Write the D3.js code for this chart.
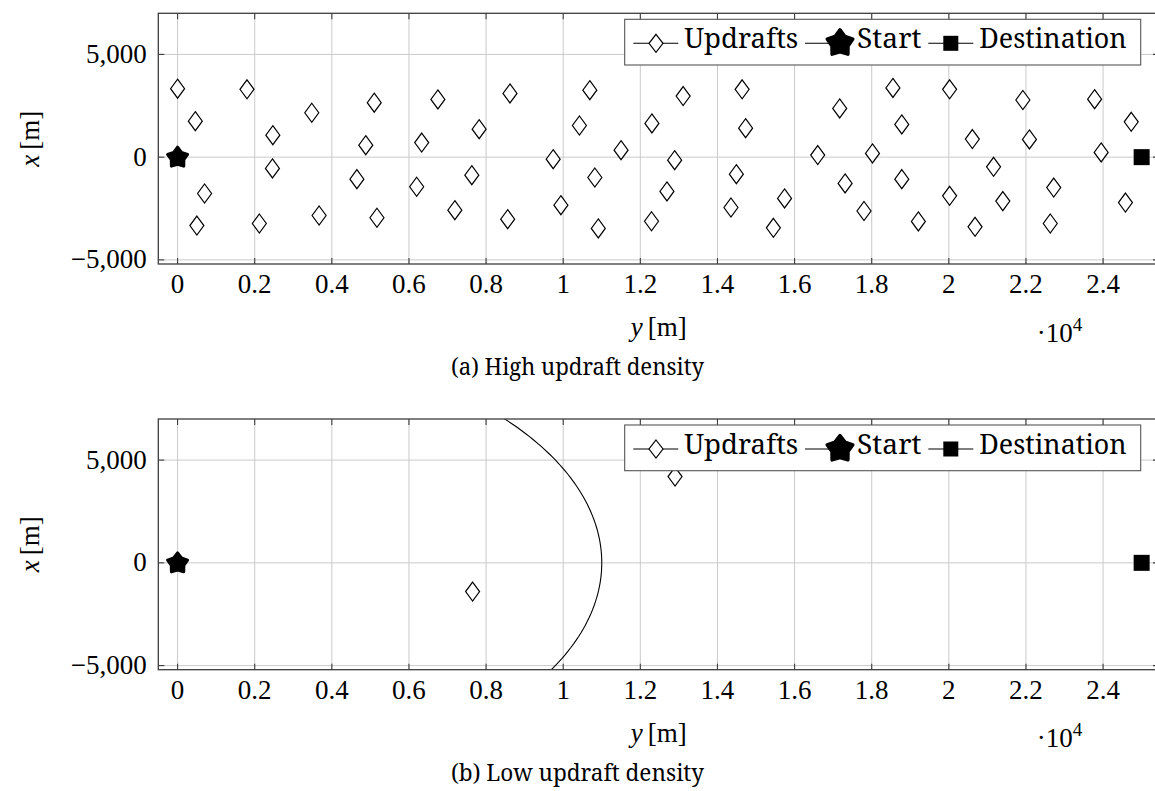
<!DOCTYPE html>
<html>
<head>
<meta charset="utf-8">
<script src="https://cdn.jsdelivr.net/npm/d3@7"></script>
<style>
  html, body { margin: 0; padding: 0; background: #fff; }
  svg { display: block; }
</style>
</head>
<body>
<svg id="fig" width="1155" height="791"></svg>
<script>
// ---- data -------------------------------------------------------------
// horizontal axis: y [m] (shown in units of 10^4), vertical axis: x [m]
const yTickValues = [0, 2000, 4000, 6000, 8000, 10000, 12000, 14000, 16000, 18000, 20000, 22000, 24000];
const yTickLabels = ["0", "0.2", "0.4", "0.6", "0.8", "1", "1.2", "1.4", "1.6", "1.8", "2", "2.2", "2.4"];
const xTickValues = [-5000, 0, 5000];
const xTickLabels = ["\u22125,000", "0", "5,000"];

const startPoint = [0, 0];          // [y, x]
const destinationPoint = [25000, 0];

// updraft centres as [y, x] in metres
const highDensityUpdrafts = [
  [0, 3330], [460, 1750], [700, -1770], [500, -3330], [1800, 3300], [2470, 1070],
  [2460, -550], [2120, -3230], [3480, 2160], [3670, -2840], [5100, 2650], [4880, 580],
  [4650, -1070], [5170, -2950], [6750, 2810], [6330, 710], [6200, -1440], [7190, -2580],
  [7820, 1360], [7630, -880], [8620, 3100], [8560, -3020], [9740, -100], [9940, -2340],
  [10690, 3260], [10420, 1540], [10820, -990], [10910, -3470], [11500, 340], [12300, 1640],
  [12290, -3120], [13110, 2970], [12890, -150], [12690, -1670], [14640, 3300], [14730, 1410],
  [14490, -830], [14350, -2450], [15450, -3440], [15740, -2010], [16600, 100], [17170, 2370],
  [17310, -1280], [17800, -2620], [18020, 180], [18550, 3370], [18780, 1590], [18780, -1070],
  [19210, -3130], [20020, 3300], [20020, -1880], [20610, 880], [20680, -3390], [21160, -470],
  [21400, -2140], [21920, 2780], [22090, 860], [22720, -1480], [22630, -3230], [23780, 2820],
  [23950, 230], [24580, -2210], [24730, 1720]
];
const lowDensityUpdrafts = [[7650, -1400], [12900, 4200]];

// reachable range around the start point (low-density case)
const reachRadius = 11000;

const legendLabels = ["Updrafts", "Start", "Destination"];
const captions = ["(a) High updraft density", "(b) Low updraft density"];

// ---- fonts & layout -------------------------------------------------------
const MATH_FONT = '"Liberation Serif", "Times New Roman", serif';
const TEXT_FONT = '"Noto Serif", "Liberation Serif", serif';
const W = 1155;
const plotLeft = 158.3, plotRight = 1159, plotH = 250.7;
const yDomain = [-500, 25450];
const xDomain = [-5200, 7000];
const FRAME = "#3d3d3d", GRID = "#cacaca";

const svg = d3.select("#fig").attr("font-family", MATH_FONT);

function starPath(cx, cy, R, r) {
  const pts = [];
  for (let i = 0; i < 10; i++) {
    const a = -Math.PI / 2 + i * Math.PI / 5;
    const rad = i % 2 === 0 ? R : r;
    pts.push([cx + rad * Math.cos(a), cy + rad * Math.sin(a)]);
  }
  return "M" + pts.map(p => p.join(",")).join("L") + "Z";
}
function diamondPath(cx, cy, hw, hh) {
  return `M${cx},${cy - hh}L${cx + hw},${cy}L${cx},${cy + hh}L${cx - hw},${cy}Z`;
}

function drawPanel(top, updrafts, withRange, caption, idx) {
  const g = svg.append("g");
  const bottom = top + plotH;
  const sx = d3.scaleLinear().domain(yDomain).range([plotLeft, plotRight]);
  const sy = d3.scaleLinear().domain(xDomain).range([bottom, top]);

  const clipId = "clip" + idx;
  svg.append("clipPath").attr("id", clipId)
    .append("rect").attr("x", plotLeft).attr("y", top)
    .attr("width", plotRight - plotLeft).attr("height", plotH);

  // grid
  const grid = g.append("g").attr("clip-path", `url(#${clipId})`);
  grid.selectAll("line.v").data(yTickValues).join("line")
    .attr("x1", d => sx(d)).attr("x2", d => sx(d))
    .attr("y1", top).attr("y2", bottom)
    .attr("stroke", GRID).attr("stroke-width", 1);
  grid.selectAll("line.h").data(xTickValues).join("line")
    .attr("class", "h")
    .attr("x1", plotLeft).attr("x2", plotRight)
    .attr("y1", d => sy(d)).attr("y2", d => sy(d))
    .attr("stroke", GRID).attr("stroke-width", 1);

  const marks = g.append("g").attr("clip-path", `url(#${clipId})`);

  if (withRange) {
    const angles = d3.range(0, 361, 1).map(a => a * Math.PI / 180);
    const line = d3.line()
      .x(a => sx(startPoint[0] + reachRadius * Math.cos(a)))
      .y(a => sy(startPoint[1] + reachRadius * Math.sin(a)));
    marks.append("path").attr("d", line(angles))
      .attr("fill", "none").attr("stroke", "#000").attr("stroke-width", 1.1);
  }

  marks.selectAll("path.up").data(updrafts).join("path")
    .attr("class", "up")
    .attr("d", d => diamondPath(sx(d[0]), sy(d[1]), 7, 9.5))
    .attr("fill", "#fff").attr("stroke", "#000").attr("stroke-width", 1.2);

  marks.append("path")
    .attr("d", starPath(sx(startPoint[0]), sy(startPoint[1]) + 0.5, 10.5, 6.6))
    .attr("fill", "#000").attr("stroke", "#000").attr("stroke-width", 3)
    .attr("stroke-linejoin", "round");

  marks.append("rect")
    .attr("x", sx(destinationPoint[0]) - 8).attr("y", sy(destinationPoint[1]) - 8)
    .attr("width", 16).attr("height", 16).attr("fill", "#000");

  // frame
  g.append("rect").attr("x", plotLeft).attr("y", top)
    .attr("width", plotRight - plotLeft).attr("height", plotH)
    .attr("fill", "none").attr("stroke", FRAME).attr("stroke-width", 1.3);

  // inward tick marks on all four sides
  const tl = 6;
  const ticks = g.append("g").attr("stroke", FRAME).attr("stroke-width", 1.1);
  yTickValues.forEach(v => {
    ticks.append("line").attr("x1", sx(v)).attr("x2", sx(v)).attr("y1", bottom).attr("y2", bottom - tl);
    ticks.append("line").attr("x1", sx(v)).attr("x2", sx(v)).attr("y1", top).attr("y2", top + tl);
  });
  xTickValues.forEach(v => {
    ticks.append("line").attr("x1", plotLeft).attr("x2", plotLeft + tl).attr("y1", sy(v)).attr("y2", sy(v));
    ticks.append("line").attr("x1", plotRight).attr("x2", plotRight - tl).attr("y1", sy(v)).attr("y2", sy(v));
  });

  // tick labels
  g.selectAll("text.yt").data(yTickValues).join("text")
    .attr("class", "yt")
    .attr("x", d => sx(d)).attr("y", bottom + 29.3)
    .attr("text-anchor", "middle").attr("font-size", 27).attr("fill", "#000")
    .text((d, i) => yTickLabels[i]);
  g.selectAll("text.xt").data(xTickValues).join("text")
    .attr("class", "xt")
    .attr("x", plotLeft - 11.6).attr("y", d => sy(d) + 8.6)
    .attr("text-anchor", "end").attr("font-size", 27).attr("fill", "#000")
    .text((d, i) => xTickLabels[i]);

  // axis labels
  const yl = g.append("text")
    .attr("x", (plotLeft + plotRight) / 2).attr("y", top + 322.7)
    .attr("text-anchor", "middle").attr("font-size", 27);
  yl.append("tspan").attr("font-style", "italic").text("y");
  yl.append("tspan").attr("dx", 5).text("[m]");

  const xl = g.append("text")
    .attr("transform", `translate(38.5,${top + plotH / 2}) rotate(-90)`)
    .attr("text-anchor", "middle").attr("font-size", 27);
  xl.append("tspan").attr("font-style", "italic").text("x");
  xl.append("tspan").attr("dx", 5).text("[m]");

  const sc = g.append("text").attr("x", 1036.7).attr("y", top + 328.4).attr("font-size", 27);
  sc.append("tspan").text("\u00b710");
  sc.append("tspan").attr("font-size", 19).attr("dy", -11).text("4");

  // caption
  g.append("text").attr("x", W / 2).attr("y", top + 361.7)
    .attr("text-anchor", "middle").attr("font-size", 23.5).attr("font-family", TEXT_FONT)
    .attr("textLength", 253).attr("lengthAdjust", "spacingAndGlyphs")
    .text(caption);

  // legend
  const lg = g.append("g");
  lg.append("rect").attr("x", 624.7).attr("y", top + 6).attr("width", 516).attr("height", 45.7)
    .attr("fill", "#fff").attr("stroke", "#555").attr("stroke-width", 1.1);
  const ly = top + 30;
  const sampleStart = [633.3, 805, 928.3];
  const markerX = [656, 840, 950.8];
  const textStart = [684.3, 857, 979.3];
  const textWidth = [114, 64.4, 147.4];
  legendLabels.forEach((lab, i) => {
    lg.append("line").attr("x1", sampleStart[i]).attr("x2", sampleStart[i] + 45)
      .attr("y1", ly).attr("y2", ly).attr("stroke", "#000").attr("stroke-width", 1.1);
    if (i === 0) {
      lg.append("path").attr("d", diamondPath(markerX[i], ly, 7, 9))
        .attr("fill", "#fff").attr("stroke", "#000").attr("stroke-width", 1.2);
    } else if (i === 1) {
      lg.append("path").attr("d", starPath(markerX[i], ly, 13.5, 8.5))
        .attr("fill", "#000").attr("stroke", "#000").attr("stroke-width", 3.4)
        .attr("stroke-linejoin", "round");
    } else {
      lg.append("rect").attr("x", markerX[i] - 7.5).attr("y", ly - 7.5)
        .attr("width", 15).attr("height", 15).attr("fill", "#000");
    }
    lg.append("text").attr("x", textStart[i]).attr("y", top + 34.5)
      .attr("font-size", 27.5).attr("font-family", TEXT_FONT).attr("textLength", textWidth[i])
      .attr("lengthAdjust", "spacingAndGlyphs").text(lab);
  });
}

drawPanel(13.3, highDensityUpdrafts, false, captions[0], 0);
drawPanel(419.0, lowDensityUpdrafts, true, captions[1], 1);
</script>
</body>
</html>
